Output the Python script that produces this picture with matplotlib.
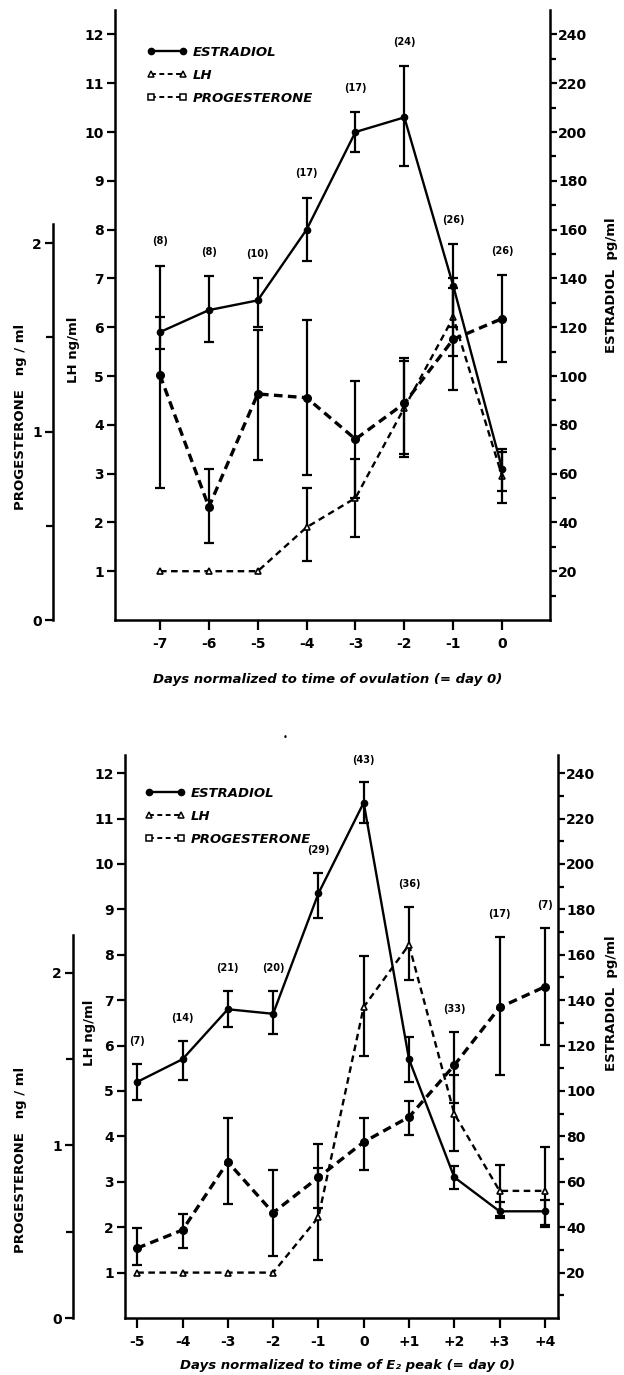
import matplotlib
matplotlib.use('Agg')
import matplotlib.pyplot as plt
from matplotlib.lines import Line2D
import numpy as np

plt.rcParams['font.family'] = ['DejaVu Sans']

nan = np.nan

# ---------------- Top panel: normalized to ovulation ----------------
days_ovu = [-7, -6, -5, -4, -3, -2, -1, 0]
ticklabels_ovu = ['-7', '-6', '-5', '-4', '-3', '-2', '-1', '0']
counts_ovu = ['(8)', '(8)', '(10)', '(17)', '(17)', '(24)', '(26)', '(26)']

e2_ovu = [118, 127, 131, 160, 200, 206, 137, 62]
e2_ovu_lo = [111, 114, 120, 147, 192, 186, 120, 53]
e2_ovu_hi = [124, 141, 140, 173, 208, 227, 154, 70]

lh_ovu = [1.0, 1.0, 1.0, 1.9, 2.5, 4.35, 6.2, 2.95]
lh_ovu_lo = [nan, nan, nan, 1.2, 1.7, 3.35, 5.4, 2.4]
lh_ovu_hi = [nan, nan, nan, 2.7, 3.3, 5.3, 7.0, 3.45]

prog_ovu = [1.30, 0.60, 1.20, 1.18, 0.96, 1.15, 1.49, 1.60]
prog_ovu_lo = [0.70, 0.41, 0.85, 0.77, 0.65, 0.88, 1.22, 1.37]
prog_ovu_hi = [1.88, 0.80, 1.54, 1.59, 1.27, 1.39, 1.76, 1.83]

# ---------------- Bottom panel: normalized to E2 peak ----------------
days_peak = [-5, -4, -3, -2, -1, 0, 1, 2, 3, 4]
ticklabels_peak = ['-5', '-4', '-3', '-2', '-1', '0', '+1', '+2', '+3', '+4']
counts_peak = ['(7)', '(14)', '(21)', '(20)', '(29)', '(43)', '(36)', '(33)', '(17)', '(7)']

e2_peak = [104, 114, 136, 134, 187, 227, 114, 62, 47, 47]
e2_peak_lo = [96, 105, 128, 125, 176, 218, 104, 57, 45, 41]
e2_peak_hi = [112, 122, 144, 144, 196, 236, 124, 67, 51, 52]

lh_peak = [1.0, 1.0, 1.0, 1.0, 2.22, 6.85, 8.22, 4.5, 2.8, 2.8]
lh_peak_lo = [nan, nan, nan, nan, 1.28, 5.78, 7.44, 3.68, 2.2, 2.0]
lh_peak_hi = [nan, nan, nan, nan, 3.3, 7.98, 9.05, 5.35, 3.37, 3.77]

prog_peak = [0.405, 0.51, 0.905, 0.61, 0.815, 1.02, 1.165, 1.465, 1.80, 1.92]
prog_peak_lo = [0.31, 0.405, 0.66, 0.36, 0.64, 0.86, 1.06, 1.245, 1.41, 1.58]
prog_peak_hi = [0.52, 0.605, 1.16, 0.86, 1.01, 1.16, 1.26, 1.66, 2.21, 2.26]

legend_labels = ['ESTRADIOL', 'LH', 'PROGESTERONE']

W, H = 624, 1375
fig = plt.figure(figsize=(W / 100, H / 100), dpi=100)

TICKFONT = dict(fontsize=10, fontweight='bold')


def errbars(axis, x, y, lo, hi):
    y = np.asarray(y, float)
    lo = np.asarray(lo, float)
    hi = np.asarray(hi, float)
    axis.errorbar(x, y, yerr=[y - lo, hi - y], fmt='none', ecolor='k',
                  elinewidth=1.6, capsize=3.5, capthick=1.6, zorder=3)


def panel(rect, xlim, lh_max, pr_max, pr_spine_x, pr_spine_top,
          days, ticklabels, counts, e2, e2lo, e2hi, lh, lhlo, lhhi,
          pr, prlo, prhi, xlabel, xlabel_pos, leg_pos, lab_pos):
    ax = fig.add_axes(rect)
    ax.set_xlim(*xlim)
    ax.set_ylim(0, lh_max)
    ae = ax.twinx()
    ae.set_ylim(0, lh_max * 20)
    ap = ax.twinx()
    ap.set_ylim(0, pr_max)

    for s in ['top', 'right']:
        ax.spines[s].set_visible(False)
    for s in ['top', 'left', 'bottom']:
        ae.spines[s].set_visible(False)
    for s in ['top', 'right', 'bottom']:
        ap.spines[s].set_visible(False)
    ap.spines['left'].set_visible(True)
    ap.spines['left'].set_position(('axes', pr_spine_x))
    ap.spines['left'].set_bounds(0, pr_spine_top)
    ap.yaxis.set_ticks_position('left')
    ap.yaxis.set_label_position('left')
    for a in (ax, ae, ap):
        for s in a.spines.values():
            s.set_linewidth(1.8)

    # ticks
    ax.set_xticks(days)
    ax.set_xticklabels(ticklabels, **TICKFONT)
    ax.set_yticks(range(1, 13))
    ax.set_yticklabels([str(v) for v in range(1, 13)], **TICKFONT)
    ax.tick_params(axis='y', direction='out', length=6, width=1.6, pad=2)
    ax.tick_params(axis='x', direction='out', length=7, width=1.6, pad=5)

    ae.set_yticks(range(20, 241, 20))
    ae.set_yticklabels([str(v) for v in range(20, 241, 20)], **TICKFONT)
    ae.set_yticks(range(10, 240, 20), minor=True)
    ae.tick_params(axis='y', which='major', direction='out', length=5, width=1.6, pad=1)
    ae.tick_params(axis='y', which='minor', direction='out', length=4, width=1.6)

    ap.set_yticks([0, 1, 2])
    ap.set_yticklabels(['0', '1', '2'], **TICKFONT)
    ap.set_yticks([0.5, 1.5], minor=True)
    ap.tick_params(axis='y', which='major', direction='out', length=6, width=1.6, pad=2)
    ap.tick_params(axis='y', which='minor', direction='out', length=5, width=1.6)

    # data
    prog_dash = (0, (2.6, 1.6))
    lh_dash = (0, (2.8, 1.9))
    ap.plot(days, pr, color='k', lw=2.4, ls=prog_dash, marker='o', ms=5.5,
            mfc='k', mec='k', zorder=4)
    errbars(ap, days, pr, prlo, prhi)
    ax.plot(days, lh, color='k', lw=1.7, ls=lh_dash, marker='^', ms=5,
            mfc='white', mec='k', mew=1.2, zorder=4)
    errbars(ax, days, lh, lhlo, lhhi)
    ae.plot(days, e2, color='k', lw=1.7, ls='-', marker='o', ms=4.5,
            mfc='k', mec='k', zorder=4)
    errbars(ae, days, e2, e2lo, e2hi)

    # counts above the highest error bar at each day
    fac = lh_max / pr_max
    tops = np.nanmax(np.vstack([np.asarray(e2hi, float) / 20.0,
                                np.asarray(lhhi, float),
                                np.asarray(prhi, float) * fac]), axis=0)
    for d, t, c in zip(days, tops, counts):
        ax.text(d, t + 0.5, c, ha='center', va='center', fontsize=7,
                fontweight='bold')

    # legend
    handles = [
        Line2D([], [], color='k', lw=1.7, ls='-', marker='o', ms=4.5, mfc='k'),
        Line2D([], [], color='k', lw=1.4, ls=(0, (2.5, 1.8)), marker='^', ms=5,
               mfc='white', mew=1.1),
        Line2D([], [], color='k', lw=1.4, ls=(0, (2.5, 1.8)), marker='s', ms=4,
               mfc='white', mew=1.1),
    ]
    ax.legend(handles, legend_labels, loc='upper left', bbox_to_anchor=leg_pos,
              frameon=False, numpoints=2, handlelength=3.0, handletextpad=0.5,
              labelspacing=0.75, borderpad=0, borderaxespad=0,
              prop=dict(weight='bold', style='italic', size=9.5))

    # axis labels
    ax.text(xlabel_pos[0], xlabel_pos[1], xlabel, transform=ax.transAxes,
            ha='center', va='center', fontsize=9.5, fontweight='bold',
            style='italic')
    ax.text(lab_pos[0][0], lab_pos[0][1], 'LH ng/ml', transform=ax.transAxes,
            rotation=90, ha='center', va='center', fontsize=9.5, fontweight='bold')
    ax.text(lab_pos[1][0], lab_pos[1][1], 'PROGESTERONE   ng / ml',
            transform=ax.transAxes, rotation=90, ha='center', va='center',
            fontsize=9.5, fontweight='bold')
    ax.text(lab_pos[2][0], lab_pos[2][1], 'ESTRADIOL  pg/ml',
            transform=ax.transAxes, rotation=90, ha='center', va='center',
            fontsize=9.5, fontweight='bold')
    return ax


# top panel
panel(rect=[115 / W, 1 - 620 / H, 435 / W, 610 / H],
      xlim=(-7.92, 0.98), lh_max=12.5, pr_max=12.5 / 3.86,
      pr_spine_x=(53 - 115) / 435, pr_spine_top=2.1,
      days=days_ovu, ticklabels=ticklabels_ovu, counts=counts_ovu,
      e2=e2_ovu, e2lo=e2_ovu_lo, e2hi=e2_ovu_hi,
      lh=lh_ovu, lhlo=lh_ovu_lo, lhhi=lh_ovu_hi,
      pr=prog_ovu, prlo=prog_ovu_lo, prhi=prog_ovu_hi,
      xlabel='Days normalized to time of ovulation (= day 0)',
      xlabel_pos=((328 - 115) / 435, (620 - 680) / 610),
      leg_pos=((147 - 115) / 435, (620 - 46) / 610),
      lab_pos=[((74 - 115) / 435, (620 - 350) / 610),
               ((21 - 115) / 435, (620 - 417) / 610),
               ((612 - 115) / 435, (620 - 285) / 610)])

# bottom panel
panel(rect=[125 / W, 1 - 1318 / H, 433 / W, 563 / H],
      xlim=(-5.27, 4.29), lh_max=12.4, pr_max=12.4 / 3.80,
      pr_spine_x=(73 - 125) / 433, pr_spine_top=2.22,
      days=days_peak, ticklabels=ticklabels_peak, counts=counts_peak,
      e2=e2_peak, e2lo=e2_peak_lo, e2hi=e2_peak_hi,
      lh=lh_peak, lhlo=lh_peak_lo, lhhi=lh_peak_hi,
      pr=prog_peak, prlo=prog_peak_lo, prhi=prog_peak_hi,
      xlabel='Days normalized to time of E\u2082 peak (= day 0)',
      xlabel_pos=((348 - 125) / 433, (1318 - 1365) / 563),
      leg_pos=((145 - 125) / 433, (1318 - 787) / 563),
      lab_pos=[((90 - 125) / 433, (1318 - 1033) / 563),
               ((21 - 125) / 433, (1318 - 1160) / 563),
               ((612 - 125) / 433, (1318 - 1003) / 563)])

# small stray dot visible in the scan between the panels
fig.text(285 / W, 1 - 737 / H, '\u2022', fontsize=6, ha='center', va='center')

fig.savefig('out.png', dpi=100)
